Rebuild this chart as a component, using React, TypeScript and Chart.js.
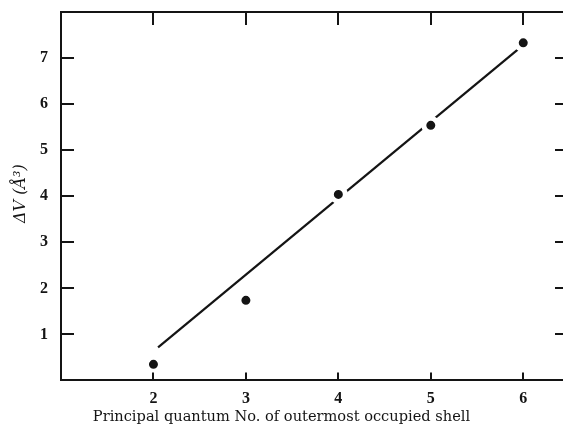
import React, { useEffect, useRef } from "react";
import { Chart, registerables } from "chart.js";

Chart.register(...registerables);

// Data
const shellNumbers = [2, 3, 4, 5, 6];
const deltaV = [0.35, 1.74, 4.04, 5.54, 7.33];
const fitX = [2.05, 5.95];
const fitY = [0.72, 7.2];
const xTickValues = [2, 3, 4, 5, 6];
const yTickValues = [1, 2, 3, 4, 5, 6, 7];
const xTitle = "Principal quantum No. of outermost occupied shell";
const yTitle = " \u0394V (\u00C5\u00B3)";

const INK = "#141414";
const SERIF = "'DejaVu Serif', 'Liberation Serif', serif";
const DIGITS = "'Liberation Serif', 'DejaVu Serif', serif";

const frameTicks = {
  id: "frameTicks",
  afterDraw(chart: any) {
    const { ctx, chartArea, scales } = chart;
    const { left, right, top, bottom } = chartArea;
    const x = scales.x;
    const y = scales.y;
    ctx.save();
    ctx.strokeStyle = INK;
    ctx.lineWidth = 2;
    ctx.beginPath();
    ctx.moveTo(left, top);
    ctx.lineTo(right, top);
    for (const v of xTickValues) {
      const px = Math.round(x.getPixelForValue(v));
      ctx.moveTo(px, top);
      ctx.lineTo(px, top + 13);
      ctx.moveTo(px, bottom);
      ctx.lineTo(px, bottom - 8);
    }
    for (const v of yTickValues) {
      const py = Math.round(y.getPixelForValue(v));
      ctx.moveTo(left, py);
      ctx.lineTo(left + 13, py);
      ctx.moveTo(right, py);
      ctx.lineTo(right - 8, py);
    }
    ctx.stroke();
    ctx.restore();
  },
};

export default function App() {
  const canvasRef = useRef<HTMLCanvasElement | null>(null);

  useEffect(() => {
    document.body.style.margin = "0";
    const canvas = canvasRef.current;
    if (!canvas) return;
    const chart = new Chart(canvas, {
      type: "scatter",
      data: {
        datasets: [
          {
            type: "scatter",
            data: shellNumbers.map((n, i) => ({ x: n, y: deltaV[i] })),
            backgroundColor: INK,
            borderColor: "#ffffff",
            borderWidth: 5,
            pointRadius: 7,
            pointHoverRadius: 7,
            order: 1,
          },
          {
            type: "line",
            data: fitX.map((v, i) => ({ x: v, y: fitY[i] })),
            borderColor: INK,
            borderWidth: 2.2,
            pointRadius: 0,
            fill: false,
            tension: 0,
            order: 2,
          } as any,
        ],
      },
      options: {
        animation: false,
        responsive: false,
        layout: { autoPadding: false, padding: { top: 12, left: 0, right: 0, bottom: 0 } },
        plugins: {
          legend: { display: false },
          tooltip: { enabled: false },
          title: {
            display: true,
            position: "bottom",
            text: xTitle,
            color: INK,
            font: { family: SERIF, size: 14.6, weight: "normal" },
            padding: { top: 0, bottom: 0 },
          },
        },
        scales: {
          x: {
            type: "linear",
            min: 1,
            max: 6.43,
            afterBuildTicks: (s: any) => {
              s.ticks = xTickValues.map((v) => ({ value: v }));
            },
            afterFit: (s: any) => {
              s.height = 28;
              s.paddingLeft = 0;
              s.paddingRight = 0;
            },
            grid: { display: false, drawTicks: false },
            border: { display: true, color: INK, width: 2 },
            ticks: {
              color: INK,
              padding: 9,
              maxRotation: 0,
              font: { family: DIGITS, size: 16, weight: "bold" },
            },
          },
          y: {
            type: "linear",
            min: 0,
            max: 8,
            afterBuildTicks: (s: any) => {
              s.ticks = yTickValues.map((v) => ({ value: v }));
            },
            afterFit: (s: any) => {
              s.width = 61;
              s.paddingTop = 0;
              s.paddingBottom = 0;
            },
            grid: { display: false, drawTicks: false },
            border: { display: true, color: INK, width: 2 },
            ticks: {
              color: INK,
              padding: 13,
              font: { family: DIGITS, size: 16, weight: "bold" },
            },
            title: {
              display: true,
              text: yTitle,
              color: INK,
              font: { family: SERIF, size: 16, style: "italic" },
              padding: { top: 11, bottom: 0 },
            },
          },
        },
      },
      plugins: [frameTicks],
    });
    return () => chart.destroy();
  }, []);

  return (
    <div style={{ position: "fixed", left: 0, top: 0, width: 563, height: 426, overflow: "hidden", background: "#fff" }}>
      <canvas ref={canvasRef} width={563} height={426} />
    </div>
  );
}
